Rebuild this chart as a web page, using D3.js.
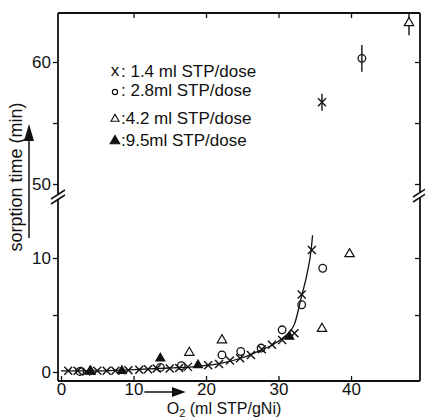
<!DOCTYPE html>
<html>
<head>
<meta charset="utf-8">
<script src="https://cdn.jsdelivr.net/npm/d3@7/dist/d3.min.js"></script>
<style>
  body { margin: 0; background: #fff; }
  svg { display: block; font-family: "Liberation Sans", Arial, sans-serif; }
  .tick text { font-size: 17px; fill: #111; }
  .tick line { stroke: #111; stroke-width: 1.3; }
</style>
</head>
<body>
<div id="chart"></div>
<script>
// Sorption time vs O2 uptake, broken y axis (0-10 lower, 50-60 upper)

// 1.4 ml STP/dose (crosses)
const crossX = [1, 2.3, 3.5, 5, 6.3, 7.5, 9.3, 10.8, 12, 13.2, 15, 16.3, 17.5, 20.3, 21.8, 23.3, 24.7, 26.2, 27.7, 29.1, 30.5, 32.2, 33.2, 34.6];
const crossY = [0.1, 0.1, 0.05, 0.1, 0.1, 0.1, 0.15, 0.2, 0.25, 0.3, 0.3, 0.35, 0.45, 0.6, 0.7, 1.0, 1.2, 1.5, 2.0, 2.4, 2.8, 3.4, 6.8, 10.7];
// 2.8 ml STP/dose (open circles)
const circX = [2.6, 13.7, 16.6, 22.2, 24.8, 27.6, 30.5, 33.2, 36.1];
const circY = [0.05, 0.4, 0.55, 1.5, 1.8, 2.1, 3.7, 5.9, 9.1];
// 4.2 ml STP/dose (open triangles)
const triX = [4.1, 17.7, 22.2, 36.0, 39.8];
const triY = [0.05, 1.7, 2.8, 3.8, 10.35];
// 9.5 ml STP/dose (filled triangles)
const fillX = [4.0, 8.4, 13.7, 18.9, 31.5];
const fillY = [0.05, 0.1, 1.2, 0.6, 3.1];

// points on the upper (50-60) part, with error bars
const highKind = ["cross", "circle", "triangle"];
const highX = [36.0, 41.5, 48.0];
const highY = [56.7, 60.3, 63.2];
const highErr = [0.7, 1.1, 1.0];

// hand-drawn fit curve through the 1.4 ml series
const fitX = [0, 5, 10, 15, 19, 22, 25, 27.5, 29.5, 31, 32.2, 33.2, 34.0, 34.5, 34.7];
const fitY = [0.1, 0.1, 0.2, 0.35, 0.5, 0.75, 1.25, 1.9, 2.5, 3.2, 4.2, 6.7, 8.8, 10.7, 12.0];

const xTicks = [0, 10, 20, 30, 40];
const lowTicks = [0, 5, 10];
const highTicks = [50, 55, 60];

const legendKind = ["cross", "circle", "triangle", "filled"];
const legendText = [":  1.4 ml STP/dose", ": 2.8ml STP/dose", ":4.2 ml STP/dose", ":9.5ml STP/dose"];

const W = 425, H = 420;
const L = 58, R = 420, T = 13, B = 381;
const BREAK_L = 197, BREAK_R = 195;

const svg = d3.select("#chart").append("svg").attr("width", W).attr("height", H);

const x = d3.scaleLinear().domain([0, 40]).range([61, 351]);
const yLow = d3.scaleLinear().domain([0, 10]).range([372, 258]);
const yHigh = d3.scaleLinear().domain([50, 60]).range([184, 62]);

// Frame
const frame = svg.append("g").attr("stroke", "#111").attr("stroke-width", 1.8).attr("fill", "none");
frame.append("line").attr("x1", L).attr("x2", R).attr("y1", T).attr("y2", T);
frame.append("line").attr("x1", L).attr("x2", R).attr("y1", B).attr("y2", B);
frame.append("line").attr("x1", L).attr("x2", L).attr("y1", T).attr("y2", BREAK_L - 3);
frame.append("line").attr("x1", L).attr("x2", L).attr("y1", BREAK_L + 3).attr("y2", B);
frame.append("line").attr("x1", R).attr("x2", R).attr("y1", T).attr("y2", BREAK_R - 3);
frame.append("line").attr("x1", R).attr("x2", R).attr("y1", BREAK_R + 3).attr("y2", B);

// Break marks
const brk = svg.append("g").attr("stroke", "#111").attr("stroke-width", 1.5);
for (const [cx, cy] of [[L, BREAK_L], [R, BREAK_R]]) {
    for (const dy of [-2.5, 2.5]) {
        brk.append("line")
            .attr("x1", cx - 7).attr("y1", cy + dy + 4.5)
            .attr("x2", cx + 7).attr("y2", cy + dy - 4.5);
    }
}

// Axes
const fmt = (d) => (d % 10 === 0 ? d : "");
function styleAxis(g) {
    g.select(".domain").remove();
}
svg.append("g").attr("transform", `translate(0,${B})`)
    .call(d3.axisBottom(x).tickValues(xTicks).tickSize(-5).tickPadding(2).tickFormat((d) => d))
    .call(styleAxis);
svg.append("g").attr("transform", `translate(0,${T})`)
    .call(d3.axisTop(x).tickValues(xTicks.slice(1)).tickSize(-5).tickFormat(""))
    .call(styleAxis);
svg.append("g").attr("transform", `translate(${L},0)`)
    .call(d3.axisLeft(yLow).tickValues(lowTicks).tickSize(5).tickPadding(2).tickFormat(fmt))
    .call(styleAxis);
svg.append("g").attr("transform", `translate(${L},0)`)
    .call(d3.axisLeft(yHigh).tickValues(highTicks).tickSize(5).tickPadding(2).tickFormat(fmt))
    .call(styleAxis);
svg.append("g").attr("transform", `translate(${R},0)`)
    .call(d3.axisRight(yLow).tickValues(lowTicks.slice(1)).tickSize(-5).tickFormat(""))
    .call(styleAxis);
svg.append("g").attr("transform", `translate(${R},0)`)
    .call(d3.axisRight(yHigh).tickValues(highTicks).tickSize(-5).tickFormat(""))
    .call(styleAxis);

// Fit curve
svg.append("path")
    .datum(fitX.map((v, i) => [v, fitY[i]]))
    .attr("fill", "none").attr("stroke", "#111").attr("stroke-width", 1.3)
    .attr("d", d3.line().x((d) => x(d[0])).y((d) => yLow(d[1])).curve(d3.curveMonotoneX));

// Marker drawing
function marker(g, kind, px, py) {
    if (kind === "cross") {
        const s = 4;
        g.append("path")
            .attr("d", `M${px - s},${py - s}L${px + s},${py + s}M${px - s},${py + s}L${px + s},${py - s}`)
            .attr("stroke", "#111").attr("stroke-width", 1.4).attr("fill", "none");
    } else if (kind === "circle") {
        g.append("circle").attr("cx", px).attr("cy", py).attr("r", 3.8)
            .attr("stroke", "#111").attr("stroke-width", 1.3).attr("fill", "none");
    } else {
        g.append("path")
            .attr("d", d3.symbol(d3.symbolTriangle, kind === "filled" ? 34 : 38)())
            .attr("transform", `translate(${px},${py})`)
            .attr("stroke", "#111").attr("stroke-width", 1.2)
            .attr("fill", kind === "filled" ? "#111" : "#fff");
    }
}

const pts = svg.append("g");
crossX.forEach((v, i) => marker(pts, "cross", x(v), yLow(crossY[i])));
circX.forEach((v, i) => marker(pts, "circle", x(v), yLow(circY[i])));
triX.forEach((v, i) => marker(pts, "triangle", x(v), yLow(triY[i])));
fillX.forEach((v, i) => marker(pts, "filled", x(v), yLow(fillY[i])));

// Upper points with error bars
highX.forEach((v, i) => {
    const px = x(v), py = yHigh(highY[i]);
    pts.append("line")
        .attr("x1", px).attr("x2", px)
        .attr("y1", Math.max(T, yHigh(highY[i] + highErr[i])))
        .attr("y2", yHigh(highY[i] - highErr[i]))
        .attr("stroke", "#111").attr("stroke-width", 1.4);
    marker(pts, highKind[i], px, py);
});

// Legend
const leg = svg.append("g").attr("font-size", 17).attr("fill", "#111");
const legY = [71, 90, 118, 140];
legendKind.forEach((k, i) => {
    if (k === "cross") {
        leg.append("text").attr("x", 115).attr("y", legY[i] + 5).attr("text-anchor", "middle").text("x");
    } else if (k === "circle") {
        leg.append("circle").attr("cx", 115).attr("cy", legY[i] + 2).attr("r", 2.6)
            .attr("fill", "none").attr("stroke", "#111").attr("stroke-width", 1.2);
    } else {
        leg.append("path").attr("d", d3.symbol(d3.symbolTriangle, k === "filled" ? 40 : 28)())
            .attr("transform", `translate(115,${legY[i] + 1})`)
            .attr("stroke", "#111").attr("stroke-width", 1.1)
            .attr("fill", k === "filled" ? "#111" : "#fff");
    }
    leg.append("text").attr("x", 121).attr("y", legY[i] + 6).text(legendText[i]);
});

// X label with arrow
const xl = svg.append("g").attr("fill", "#111");
xl.append("line").attr("x1", x(11.5)).attr("x2", x(16)).attr("y1", 392).attr("y2", 392)
    .attr("stroke", "#111").attr("stroke-width", 1.5);
xl.append("path").attr("d", `M${x(15.3)},387L${x(17.2)},392L${x(15.3)},397Z`);
const xt = xl.append("text").attr("x", 224).attr("y", 414).attr("text-anchor", "middle").attr("font-size", 16);
xt.append("tspan").text("O");
xt.append("tspan").attr("font-size", 11).attr("dy", 3).text("2");
xt.append("tspan").attr("dy", -3).text(" (ml STP/gNi)");

// Y label with arrow
const yl = svg.append("g").attr("fill", "#111");
yl.append("text").attr("transform", "translate(22,177) rotate(-90)")
    .attr("text-anchor", "middle").attr("font-size", 18).text("sorption time (min)");
yl.append("line").attr("x1", 29).attr("x2", 29).attr("y1", 238).attr("y2", 138)
    .attr("stroke", "#111").attr("stroke-width", 1.5);
yl.append("path").attr("d", "M24,141L29,124L34,141Z");
</script>
</body>
</html>
